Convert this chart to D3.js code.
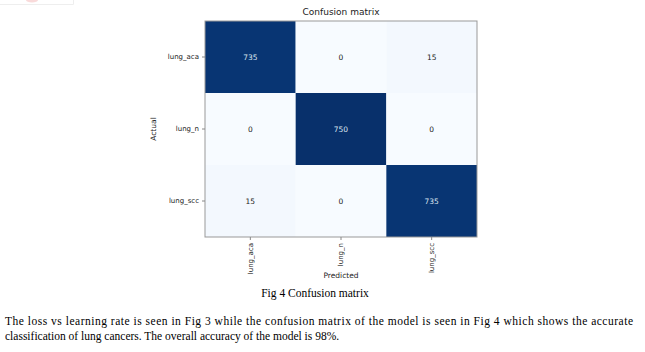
<!DOCTYPE html>
<html>

<head>
    <meta charset="utf-8">
    <script src="https://d3js.org/d3.v7.min.js"></script>
    <style type="text/css">
        body {
            margin: 0;
            background: white;
        }

        .tick text {
            font-family: "DejaVu Sans", sans-serif;
            font-size: 7px;
            fill: #222;
        }

        .tick line,
        .domain {
            stroke: #888;
        }

        .label {
            font-family: "DejaVu Sans", sans-serif;
            font-size: 7.5px;
            fill: #222;
        }

        .caption {
            font-family: "Liberation Serif", "Times New Roman", serif;
            font-size: 11.5px;
            fill: #000;
        }
    </style>
</head>

<body>
    <div id="cm"></div>

    <script>
        // data
        const classes = ["lung_aca", "lung_n", "lung_scc"];
        const rowAca = [735, 0, 15];
        const rowN = [0, 750, 0];
        const rowScc = [15, 0, 735];
        const paragraph = [
            "The loss vs learning rate is seen in Fig 3 while the confusion matrix of the model is seen in Fig 4 which shows the accurate",
            "classification of lung cancers. The overall accuracy of the model is 98%."
        ];

        const rows = [rowAca, rowN, rowScc];
        const cells = [];
        rows.forEach((r, i) => r.forEach((v, j) => cells.push({ actual: classes[i], predicted: classes[j], value: v })));

        const W = 645, H = 352;
        const svg = d3.select("#cm").append("svg")
            .attr("width", W)
            .attr("height", H);

        // faint leftover box in the top-left corner of the page scan
        svg.append("path")
            .attr("d", "M0,4.5H73.5V0")
            .attr("fill", "none")
            .attr("stroke", "#eee");
        svg.append("ellipse")
            .attr("cx", 32).attr("cy", 0).attr("rx", 6).attr("ry", 2.5)
            .attr("fill", "#f7caca").attr("opacity", 0.7);

        const x = d3.scaleBand().domain(classes).range([205, 477]);
        const y = d3.scaleBand().domain(classes).range([21, 237]);
        const color = d3.scaleSequential(d3.interpolateBlues)
            .domain([0, d3.max(cells, d => d.value)]);

        svg.selectAll("rect.cell")
            .data(cells)
            .join("rect")
            .attr("class", "cell")
            .attr("x", d => x(d.predicted))
            .attr("y", d => y(d.actual))
            .attr("width", x.bandwidth())
            .attr("height", y.bandwidth())
            .attr("fill", d => color(d.value));

        svg.selectAll("text.val")
            .data(cells)
            .join("text")
            .attr("class", "label val")
            .attr("x", d => x(d.predicted) + x.bandwidth() / 2)
            .attr("y", d => y(d.actual) + y.bandwidth() / 2)
            .attr("dy", "0.35em")
            .attr("text-anchor", "middle")
            .style("fill", d => d.value > 375 ? "#dde6f0" : "#222")
            .text(d => d.value);

        // frame
        svg.append("rect")
            .attr("x", 205).attr("y", 21)
            .attr("width", 272).attr("height", 216)
            .attr("fill", "none")
            .attr("stroke", "#999")
            .attr("stroke-width", 1);

        // Y axis
        svg.append("g")
            .attr("transform", "translate(205,0)")
            .call(d3.axisLeft(y).tickSize(3).tickPadding(3))
            .call(g => g.select(".domain").remove());

        // X axis, rotated labels
        svg.append("g")
            .attr("transform", "translate(0,237)")
            .call(d3.axisBottom(x).tickSize(3).tickPadding(3))
            .call(g => g.select(".domain").remove())
            .selectAll("text")
            .attr("transform", "rotate(-90)")
            .attr("text-anchor", "end")
            .attr("x", -6)
            .attr("y", 0)
            .attr("dy", "0.35em");

        svg.append("text")
            .attr("class", "label")
            .attr("x", 341).attr("y", 15)
            .attr("text-anchor", "middle")
            .style("font-size", "9px")
            .text("Confusion matrix");

        svg.append("text")
            .attr("class", "label")
            .attr("transform", "translate(156,129) rotate(-90)")
            .attr("text-anchor", "middle")
            .text("Actual");

        svg.append("text")
            .attr("class", "label")
            .attr("x", 341).attr("y", 278)
            .attr("text-anchor", "middle")
            .text("Predicted");

        svg.append("text")
            .attr("class", "caption")
            .attr("x", 315).attr("y", 297)
            .attr("text-anchor", "middle")
            .text("Fig 4 Confusion matrix");

        svg.selectAll("text.para")
            .data(paragraph)
            .join("text")
            .attr("class", "caption para")
            .attr("x", 5)
            .attr("y", (d, i) => 325 + i * 15)
            .attr("textLength", (d, i) => i === 0 ? 628 : null)
            .attr("lengthAdjust", "spacing")
            .text(d => d);
    </script>
</body>

</html>
